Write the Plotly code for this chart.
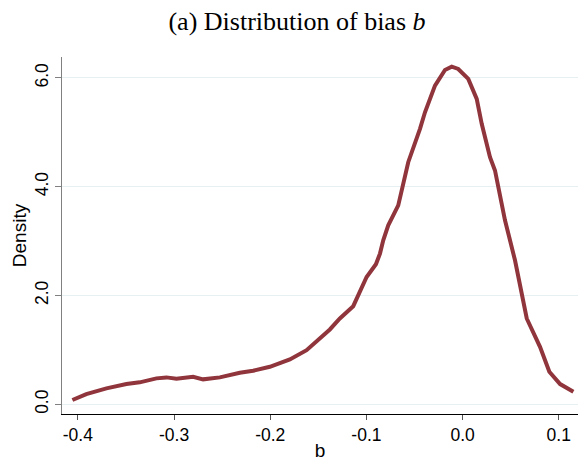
import plotly.graph_objects as go

b_values = [-0.4057, -0.3912, -0.3703, -0.3495, -0.3357, -0.3183, -0.3079, -0.2975,
            -0.2802, -0.2698, -0.2524, -0.2316, -0.2178, -0.2004, -0.1796, -0.1622,
            -0.1380, -0.1276, -0.1137, -0.1050, -0.0998, -0.0901, -0.0859, -0.0825,
            -0.0773, -0.0669, -0.0565, -0.0443, -0.0391, -0.0287, -0.0183, -0.0113,
            -0.0045, 0.0059, 0.0147, 0.0199, 0.0285, 0.0337, 0.0441, 0.0545, 0.0667,
            0.0805, 0.0902, 0.1014, 0.1152]
density_values = [0.079, 0.189, 0.294, 0.372, 0.404, 0.477, 0.495, 0.470,
                  0.506, 0.459, 0.495, 0.580, 0.617, 0.690, 0.826, 0.996,
                  1.376, 1.578, 1.804, 2.158, 2.341, 2.574, 2.771, 3.015,
                  3.290, 3.657, 4.451, 5.064, 5.369, 5.859, 6.147, 6.207,
                  6.165, 5.982, 5.615, 5.156, 4.543, 4.299, 3.382, 2.648, 1.578,
                  1.057, 0.598, 0.372, 0.231]

x_ticks = [-0.4, -0.3, -0.2, -0.1, 0.0, 0.1]
x_tick_labels = ["-0.4", "-0.3", "-0.2", "-0.1", "0.0", "0.1"]
y_ticks = [0, 2, 4, 6]
y_tick_labels = ["0.0", "2.0", "4.0", "6.0"]

fig = go.Figure()
fig.add_trace(go.Scatter(x=b_values, y=density_values, mode="lines",
                         line=dict(color="#90353B", width=4), showlegend=False,
                         hoverinfo="skip"))

fig.update_layout(
    width=581, height=461,
    margin=dict(l=62, r=3, t=57, b=47, autoexpand=False),
    paper_bgcolor="white", plot_bgcolor="white",
    title=dict(text="(a) Distribution of bias <i>b</i>", x=297/581, xref="container",
               xanchor="center", y=1 - 21/461, yanchor="middle",
               font=dict(family="Liberation Serif", size=26, color="black")),
    font=dict(family="Liberation Sans, Arial", color="black"),
)
fig.update_xaxes(range=[-0.4165, 0.120], tickvals=x_ticks, ticktext=x_tick_labels,
                 showgrid=False, zeroline=False, showline=True, linecolor="black", linewidth=1.4,
                 ticks="outside", ticklen=5, tickcolor="#555555", tickwidth=1.2,
                 tickfont=dict(size=17.5), automargin=False,
                 title=dict(text="b", font=dict(size=19), standoff=0))
fig.update_yaxes(range=[-0.178, 6.385], tickvals=y_ticks, ticktext=y_tick_labels,
                 showgrid=True, gridcolor="#E6EFF2", gridwidth=1, zeroline=False,
                 showline=True, linecolor="#808080", linewidth=1.4,
                 ticks="outside", ticklen=6, tickcolor="#808080", tickwidth=1.2,
                 tickangle=-90, tickfont=dict(size=17.5), automargin=False,
                 title=dict(text="Density", font=dict(size=19), standoff=0))

fig.write_html("out.html", config={"displayModeBar": False},
               post_script="document.body.style.margin='0';document.body.style.overflow='hidden';")
